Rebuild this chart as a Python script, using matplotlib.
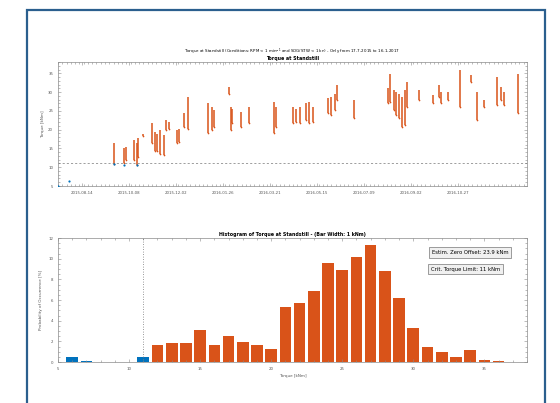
import numpy as np
import pandas as pd
import matplotlib
matplotlib.use("Agg")
import matplotlib.pyplot as plt
import matplotlib.dates as mdates
from matplotlib.patches import Rectangle
from matplotlib.ticker import MultipleLocator, AutoMinorLocator

ORANGE = "#D95319"
BLUE = "#0072BD"

# streaks of torque samples at standstill (date, lowest, highest) in kNm
streak_dates = ["2015-09-21", "2015-10-02", "2015-10-05", "2015-10-14", "2015-10-17", "2015-10-19",
                "2015-10-25", "2015-11-04", "2015-11-07", "2015-11-10", "2015-11-13", "2015-11-18",
                "2015-11-21", "2015-11-24", "2015-12-03", "2015-12-06", "2015-12-11", "2015-12-16",
                "2016-01-09", "2016-01-13", "2016-01-16", "2016-02-02", "2016-02-04", "2016-02-06",
                "2016-02-16", "2016-02-26", "2016-03-26", "2016-03-28", "2016-04-17", "2016-04-21",
                "2016-04-25", "2016-05-02", "2016-05-06", "2016-05-10", "2016-05-28", "2016-06-01",
                "2016-06-05", "2016-06-08", "2016-06-28", "2016-08-06", "2016-08-09", "2016-08-13",
                "2016-08-16", "2016-08-19", "2016-08-23", "2016-08-26", "2016-08-29", "2016-09-11",
                "2016-09-28", "2016-10-05", "2016-10-07", "2016-10-16", "2016-10-29", "2016-11-11",
                "2016-11-19", "2016-11-27", "2016-12-12", "2016-12-16", "2016-12-20", "2017-01-06"]
streak_low = [10.9, 11.2, 11.9, 11.9, 10.6, 12.7,
              18.3, 16.4, 14.4, 14.2, 13.5, 13.3,
              19.9, 20.3, 16.4, 16.8, 20.8, 20.3,
              19.0, 19.9, 20.8, 29.6, 19.9, 21.7,
              20.8, 21.8, 19.0, 20.8, 21.7, 22.1,
              21.7, 22.6, 21.7, 22.1, 24.3, 23.9,
              25.2, 27.9, 23.0, 27.0, 27.4, 25.2,
              23.9, 23.0, 20.8, 21.2, 26.1, 27.9,
              27.0, 28.7, 27.0, 27.9, 26.1, 32.7,
              22.6, 26.1, 26.5, 27.9, 26.5, 24.3]
streak_high = [16.4, 15.0, 15.3, 17.3, 16.4, 17.7,
               18.8, 21.7, 19.5, 18.8, 19.9, 18.6,
               22.6, 22.1, 19.9, 20.3, 24.3, 28.7,
               27.0, 26.1, 25.2, 31.4, 26.1, 25.6,
               24.8, 26.1, 27.4, 26.1, 26.1, 25.6,
               26.1, 27.0, 27.4, 26.1, 28.3, 28.7,
               29.6, 31.8, 27.9, 31.0, 34.9, 30.5,
               30.1, 29.6, 28.7, 30.5, 32.7, 30.5,
               29.2, 31.8, 30.1, 30.1, 35.8, 34.5,
               30.1, 27.9, 34.0, 31.4, 30.1, 34.9]

# samples below the critical torque limit
low_dates = ["2015-07-17", "2015-07-30", "2015-09-21", "2015-10-02", "2015-10-17"]
low_torque = [5.1, 6.2, 10.8, 10.7, 10.5]

# histogram, 1 kNm bins
bin_centers = list(range(6, 37))
probability = [0.48, 0.10, 0.0, 0.0, 0.0, 0.48, 1.60, 1.83, 1.83, 3.10,
               1.60, 2.56, 1.95, 1.63, 1.30, 5.32, 5.67, 6.86, 9.58, 8.94,
               10.19, 11.31, 8.81, 6.19, 3.33, 1.47, 0.93, 0.51, 1.12, 0.16, 0.10]

crit_limit = 11
zero_offset = 23.9
date_ticks = ["2015-08-14", "2015-10-08", "2015-12-02", "2016-01-26", "2016-03-21",
              "2016-05-15", "2016-07-09", "2016-09-02", "2016-10-27"]


def style_axes(ax):
    for s in ax.spines.values():
        s.set_color("#8a8a8a")
        s.set_linewidth(0.5)
    ax.tick_params(which="both", direction="in", top=True, right=True,
                   colors="#8a8a8a", labelcolor="#555555", labelsize=2.8, width=0.4)
    ax.tick_params(which="major", length=2.5)
    ax.tick_params(which="minor", length=1.2)


fig = plt.figure(figsize=(5.6, 4.03), dpi=100)
fig.patch.set_facecolor("white")
fig.patches.append(Rectangle((27 / 560, -0.1), 518 / 560, 1.1 - 10 / 403,
                             transform=fig.transFigure, fill=False,
                             edgecolor="#2b5f8e", linewidth=1.6))

# top: torque over time
ax1 = fig.add_axes([58 / 560, 1 - 186 / 403, 469 / 560, 124 / 403])
d = pd.to_datetime(streak_dates)
ax1.vlines(d, streak_low, streak_high, color=ORANGE, linewidth=1.1)
ax1.scatter(d, streak_low, s=1.5, color=ORANGE, linewidths=0)
ax1.scatter(pd.to_datetime(low_dates), low_torque, s=2.5, color=BLUE, linewidths=0, zorder=3)
ax1.axhline(crit_limit, color="#777777", linestyle=(0, (3, 3)), linewidth=0.5)
ax1.set_xlim(pd.Timestamp("2015-07-17"), pd.Timestamp("2017-01-16"))
ax1.set_ylim(5, 38)
ax1.yaxis.set_major_locator(MultipleLocator(5))
ax1.set_xticks(pd.to_datetime(date_ticks))
ax1.xaxis.set_major_formatter(mdates.DateFormatter("%Y-%m-%d"))
ax1.xaxis.set_minor_locator(mdates.DayLocator(interval=5))
ax1.yaxis.set_minor_locator(AutoMinorLocator(5))
ax1.set_ylabel("Torque [kNm]", fontsize=3, color="#555555", labelpad=2)
style_axes(ax1)
ax1.set_title("Torque at Standstill", fontsize=3.4, fontweight="bold", pad=1.5)
fig.text(292 / 560, 1 - 51.5 / 403,
         "Torque at Standstill (Conditions: RPM < 1 min$^{-1}$ and SOG/STW < 1 kn) - Only from 17-7-2015 to 16-1-2017",
         fontsize=2.9, ha="center", va="center")

# bottom: histogram
ax2 = fig.add_axes([58 / 560, 1 - 362 / 403, 469 / 560, 124 / 403])
colors = [BLUE if c <= crit_limit else ORANGE for c in bin_centers]
ax2.bar(bin_centers, probability, width=0.82, color=colors)
ax2.axvline(crit_limit, color="#777777", linestyle=(0, (1, 2)), linewidth=0.6)
ax2.set_xlim(5, 38)
ax2.set_ylim(0, 12)
ax2.xaxis.set_major_locator(MultipleLocator(5))
ax2.yaxis.set_major_locator(MultipleLocator(2))
ax2.xaxis.set_minor_locator(AutoMinorLocator(5))
ax2.yaxis.set_minor_locator(AutoMinorLocator(4))
ax2.set_xlabel("Torque [kNm]", fontsize=3, color="#555555", labelpad=2)
ax2.set_ylabel("Probability of Occurrence [%]", fontsize=3, color="#555555", labelpad=4)
style_axes(ax2)
ax2.set_title("Histogram of Torque at Standstill - (Bar Width: 1 kNm)",
              fontsize=3.4, fontweight="bold", pad=1.5)

box = dict(boxstyle="square,pad=0.5", facecolor="#f0f0f0", edgecolor="#777777", linewidth=0.5)
ax2.text(0.797, 0.883, "Estim. Zero Offset: %.1f kNm" % zero_offset, transform=ax2.transAxes,
         fontsize=3.8, va="center", ha="left", bbox=box)
ax2.text(0.795, 0.75, "Crit. Torque Limit: %d kNm" % crit_limit, transform=ax2.transAxes,
         fontsize=3.8, va="center", ha="left", bbox=box)

fig.savefig("out.png", dpi=100)
